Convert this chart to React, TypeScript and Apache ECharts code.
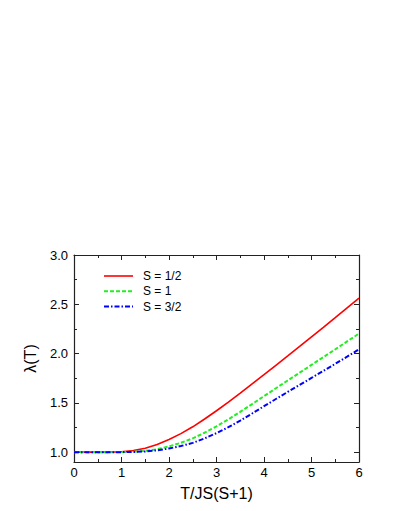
import React, { useEffect, useRef } from "react";
import * as echarts from "echarts";

const tValues = [0, 0.25, 0.5, 0.75, 1, 1.25, 1.5, 1.75, 2, 2.25, 2.5, 2.75, 3, 3.25, 3.5, 3.75, 4, 4.25, 4.5, 4.75, 5, 5.25, 5.5, 5.75, 6];
const lambdaHalf = [1.0, 1.0, 1.0, 1.0, 1.004, 1.016, 1.04, 1.078, 1.128, 1.188, 1.257, 1.336, 1.42, 1.508, 1.599, 1.692, 1.786, 1.881, 1.976, 2.072, 2.169, 2.266, 2.364, 2.463, 2.563];
const lambdaOne = [1.0, 1.0, 1.0, 1.0, 1.001, 1.004, 1.012, 1.03, 1.058, 1.095, 1.14, 1.197, 1.262, 1.333, 1.409, 1.488, 1.568, 1.648, 1.727, 1.806, 1.885, 1.964, 2.043, 2.123, 2.203];
const lambdaThreeHalf = [1.0, 1.0, 1.0, 1.0, 1.0, 1.002, 1.007, 1.019, 1.037, 1.062, 1.094, 1.14, 1.193, 1.253, 1.32, 1.392, 1.466, 1.539, 1.611, 1.682, 1.753, 1.824, 1.896, 1.969, 2.043];
const seriesNames = ["S = 1/2", "S = 1", "S = 3/2"];
const seriesColors = ["#ff0000", "#22ee22", "#0000ff"];
const seriesDash: (number[] | "solid")[] = ["solid", [4, 2], [5, 2, 1.5, 2]];
const seriesWidths = [1.6, 2, 2];
const yMajorTicks = [1.0, 1.5, 2.0, 2.5, 3.0];
const yMinorTicks = [1.25, 1.75, 2.25, 2.75];

const FONT = "Liberation Sans, Arial, sans-serif";

export default function App() {
  const ref = useRef<HTMLDivElement>(null);
  useEffect(() => {
    if (!ref.current) return;
    const chart = echarts.init(ref.current, undefined, { renderer: "svg" });
    const axisLine = { show: true, lineStyle: { color: "#222", width: 1.2 } };
    const toPairs = (ys: number[]) => tValues.map((t, i) => [t, ys[i]]);
    const xCommon = {
      type: "value",
      min: 0,
      max: 6,
      interval: 1,
      axisLine,
      splitLine: { show: false },
      axisTick: { show: true, inside: true, length: 5, lineStyle: { color: "#222" } },
      minorTick: { show: true, splitNumber: 2, length: 3, lineStyle: { color: "#222" } },
    };
    const yBase = { type: "value", min: 0.9, max: 3.0, splitLine: { show: false } };
    const legendGraphics: any[] = [];
    seriesNames.forEach((name, i) => {
      const cy = 276 + i * 15.3;
      legendGraphics.push({
        type: "line",
        shape: { x1: 104, y1: cy, x2: 133, y2: cy },
        style: {
          stroke: seriesColors[i],
          lineWidth: seriesWidths[i],
          lineDash: seriesDash[i] === "solid" ? null : seriesDash[i],
        },
      });
      legendGraphics.push({
        type: "text",
        x: 143,
        y: cy,
        style: { text: name, fontSize: 12, fontFamily: FONT, fill: "#000", verticalAlign: "middle", align: "left" },
      });
    });
    chart.setOption({
      animation: false,
      backgroundColor: "#fff",
      grid: { left: 74, right: 36, top: 255, bottom: 49, containLabel: false },
      graphic: legendGraphics,
      xAxis: [
        {
          ...xCommon,
          position: "bottom",
          name: "T/JS(S+1)",
          nameLocation: "middle",
          nameGap: 23,
          nameTextStyle: { fontSize: 16, fontFamily: FONT, color: "#000" },
          axisLabel: { fontSize: 13, fontFamily: FONT, color: "#000", margin: 4 },
        },
        { ...xCommon, position: "top", axisLabel: { show: false } },
      ],
      yAxis: [
        {
          ...yBase,
          position: "left",
          axisLine,
          name: "λ(T)",
          nameLocation: "middle",
          nameGap: 36,
          nameTextStyle: { fontSize: 16, fontFamily: FONT, color: "#000" },
          axisTick: { show: true, inside: true, length: 5, customValues: yMajorTicks, lineStyle: { color: "#222" } },
          axisLabel: {
            fontSize: 13,
            fontFamily: FONT,
            color: "#000",
            margin: 6,
            customValues: yMajorTicks,
            formatter: (v: number) => v.toFixed(1),
          },
        },
        {
          ...yBase,
          position: "left",
          axisLine: { show: false },
          axisTick: { show: true, inside: true, length: 3, customValues: yMinorTicks, lineStyle: { color: "#222" } },
          axisLabel: { show: false },
        },
        {
          ...yBase,
          position: "right",
          axisLine,
          axisTick: { show: true, inside: true, length: 5, customValues: yMajorTicks, lineStyle: { color: "#222" } },
          axisLabel: { show: false },
        },
        {
          ...yBase,
          position: "right",
          axisLine: { show: false },
          axisTick: { show: true, inside: true, length: 3, customValues: yMinorTicks, lineStyle: { color: "#222" } },
          axisLabel: { show: false },
        },
      ],
      series: [lambdaHalf, lambdaOne, lambdaThreeHalf].map((ys, i) => ({
        name: seriesNames[i],
        type: "line",
        data: toPairs(ys),
        smooth: false,
        symbol: "none",
        showSymbol: false,
        color: seriesColors[i],
        lineStyle: { color: seriesColors[i], width: seriesWidths[i], type: seriesDash[i] },
      })),
    });
    return () => chart.dispose();
  }, []);
  return <div ref={ref} style={{ width: 395, height: 511, position: "absolute", left: 0, top: 0 }} />;
}
